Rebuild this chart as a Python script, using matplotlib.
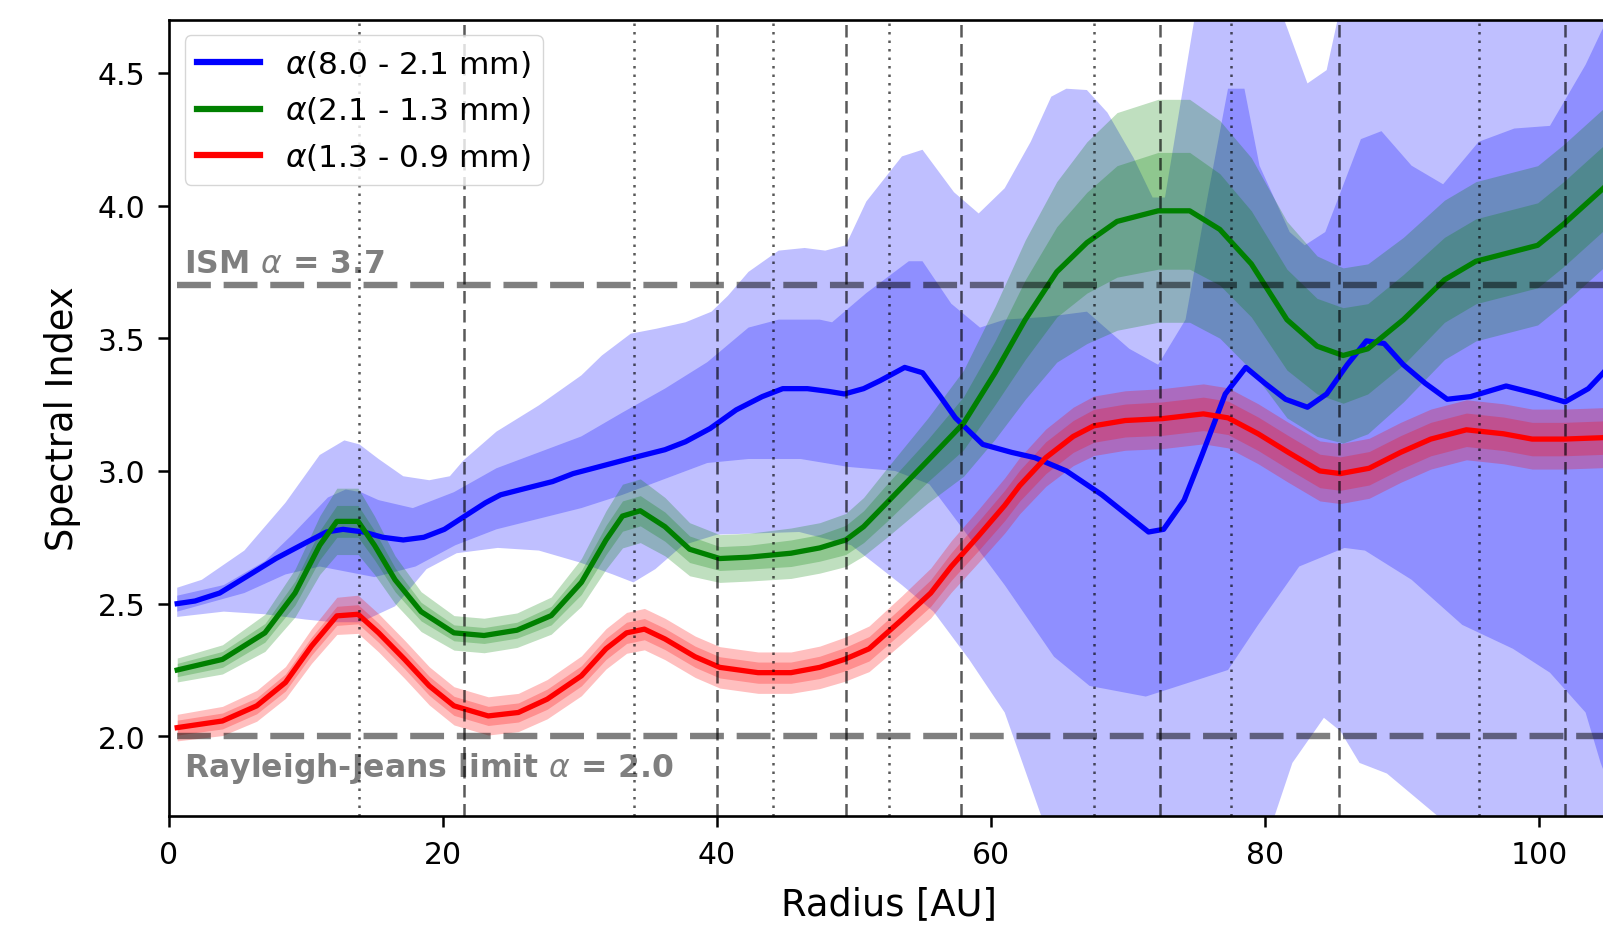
import numpy as np
import matplotlib
matplotlib.use("Agg")
import matplotlib.pyplot as plt

# ---------------- data ----------------
# alpha(8.0 - 2.1 mm) : central line
blue_r = [0.6, 1.9, 3.7, 5.6, 7.8, 10.0, 11.5, 12.7, 14.2, 15.6, 17.1, 18.6, 20.1, 21.6, 23.1, 24.2,
          25.7, 28.0, 29.5, 31.7, 33.9, 36.2, 37.7, 39.5, 41.4, 43.3, 44.8, 46.6, 48.1, 49.3, 50.7,
          51.9, 53.7, 55.0, 56.3, 57.4, 59.4, 61.5, 63.2, 65.5, 68.1, 69.8, 71.5, 72.6, 74.1, 75.4,
          77.1, 78.6, 80.0, 81.5, 83.1, 84.5, 86.0, 87.4, 88.7, 90.1, 91.7, 93.3, 95.0, 97.6, 99.9,
          101.9, 103.6, 104.7, 106.0]
blue_a = [2.50, 2.51, 2.54, 2.60, 2.67, 2.73, 2.77, 2.78, 2.77, 2.75, 2.74, 2.75, 2.78, 2.83, 2.88, 2.91,
          2.93, 2.96, 2.99, 3.02, 3.05, 3.08, 3.11, 3.16, 3.23, 3.28, 3.31, 3.31, 3.30, 3.29, 3.31,
          3.34, 3.39, 3.37, 3.28, 3.20, 3.10, 3.07, 3.05, 3.00, 2.91, 2.84, 2.77, 2.78, 2.89, 3.06,
          3.29, 3.39, 3.33, 3.27, 3.24, 3.29, 3.40, 3.49, 3.48, 3.40, 3.33, 3.27, 3.28, 3.32, 3.29,
          3.26, 3.31, 3.37, 3.45]

# blue 1-sigma band edges
blue_in_up_r = [0.6, 4.0, 7.0, 9.0, 11.6, 12.9, 14.0, 15.3, 17.8, 20.8, 23.9, 27.0, 30.1, 33.1, 36.2,
                39.3, 42.3, 44.5, 47.5, 48.4, 50.9, 54.0, 55.0, 57.1, 59.2, 61.0, 64.0, 67.0, 70.1,
                72.2, 74.2, 75.8, 77.3, 78.5, 79.6, 81.8, 82.9, 84.4, 87.0, 88.5, 90.7, 93.0, 95.6,
                98.2, 100.8, 103.4, 104.5, 106.0]
blue_in_up = [2.53, 2.57, 2.66, 2.76, 2.90, 2.93, 2.92, 2.89, 2.86, 2.92, 3.01, 3.07, 3.13, 3.22, 3.31,
              3.41, 3.54, 3.57, 3.57, 3.56, 3.67, 3.79, 3.79, 3.63, 3.54, 3.57, 3.58, 3.60, 3.46,
              3.40, 3.57, 4.03, 4.44, 4.44, 4.15, 3.90, 3.85, 3.90, 4.25, 4.28, 4.15, 4.08, 4.24,
              4.29, 4.30, 4.53, 4.65, 4.80]
blue_in_lo_r = [0.6, 5.5, 8.5, 11.0, 13.0, 15.0, 18.0, 20.9, 23.9, 27.0, 30.1, 33.1, 36.2, 39.3, 42.3,
                46.1, 49.6, 53.0, 55.5, 57.1, 61.0, 64.6, 67.2, 71.3, 74.3, 77.3, 79.5, 82.5, 85.8,
                87.3, 90.7, 94.4, 98.1, 100.8, 103.4, 104.5, 106.0]
blue_in_lo = [2.47, 2.54, 2.61, 2.64, 2.62, 2.60, 2.64, 2.72, 2.78, 2.82, 2.86, 2.91, 2.97, 3.03, 3.045,
              3.045, 3.015, 3.00, 2.95, 2.84, 2.57, 2.30, 2.19, 2.15, 2.20, 2.25, 2.42, 2.64, 2.71,
              2.70, 2.59, 2.42, 2.33, 2.24, 2.09, 1.90, 1.70]

# blue 2-sigma band edges
blue_out_up_r = [0.6, 2.4, 5.5, 8.5, 11.0, 12.8, 13.9, 15.3, 17.1, 19.0, 20.5, 21.5, 23.9, 27.0, 30.1,
                 31.6, 33.7, 35.6, 37.7, 39.6, 40.8, 42.3, 44.5, 46.4, 47.9, 49.4, 50.9, 53.5, 55.0,
                 57.3, 59.1, 61.0, 62.9, 64.4, 65.5, 67.0, 68.5, 70.4, 71.8, 72.7, 75.0, 75.5, 80.5,
                 81.4, 83.1, 84.5, 85.3, 86.0, 106.0]
blue_out_up = [2.56, 2.59, 2.70, 2.88, 3.06, 3.115, 3.10, 3.045, 2.98, 2.965, 2.98, 3.04, 3.148, 3.247,
               3.36, 3.435, 3.517, 3.536, 3.56, 3.60, 3.66, 3.75, 3.83, 3.84, 3.83, 3.85, 4.015,
               4.185, 4.21, 4.05, 3.97, 4.065, 4.24, 4.41, 4.44, 4.435, 4.35, 4.18, 4.03, 4.03, 4.75,
               4.90, 4.90, 4.70, 4.46, 4.51, 4.70, 4.90, 4.90]
blue_out_lo_r = [0.6, 4.0, 7.0, 10.0, 12.0, 14.0, 16.5, 18.8, 21.0, 24.0, 27.0, 30.0, 32.4, 33.9, 35.5,
                 37.5, 40.0, 46.0, 49.8, 53.5, 55.8, 58.4, 61.0, 63.6, 66.0, 72.0, 78.0, 80.7, 82.0,
                 84.3, 85.5, 86.9, 88.9, 92.6, 96.0, 106.0]
blue_out_lo = [2.45, 2.47, 2.46, 2.44, 2.43, 2.43, 2.49, 2.63, 2.69, 2.71, 2.70, 2.655, 2.61, 2.58, 2.63,
               2.72, 2.76, 2.77, 2.72, 2.57, 2.47, 2.29, 2.09, 1.71, 1.40, 1.30, 1.40, 1.70, 1.90,
               2.07, 2.02, 1.90, 1.86, 1.70, 1.50, 1.30]

# alpha(2.1 - 1.3 mm)
green_r = [0.6, 3.9, 7.0, 9.2, 11.0, 12.25, 13.8, 15.0, 16.5, 18.4, 20.8, 23.0, 25.4, 27.9, 30.1, 31.9,
           33.1, 34.4, 36.2, 38.0, 40.2, 42.3, 45.4, 47.5, 49.4, 50.7, 52.4, 55.4, 58.0, 60.3, 62.5,
           64.8, 67.0, 69.2, 72.2, 74.5, 76.7, 79.0, 81.6, 83.8, 85.7, 87.5, 90.1, 93.1, 95.4, 98.4,
           99.9, 101.8, 104.7, 106.0]
green_a = [2.25, 2.29, 2.39, 2.54, 2.72, 2.81, 2.81, 2.72, 2.59, 2.47, 2.39, 2.38, 2.40, 2.455, 2.58, 2.74,
           2.83, 2.85, 2.79, 2.705, 2.67, 2.675, 2.69, 2.71, 2.74, 2.79, 2.88, 3.04, 3.18, 3.37, 3.57,
           3.75, 3.86, 3.94, 3.98, 3.98, 3.91, 3.78, 3.57, 3.47, 3.435, 3.46, 3.57, 3.72, 3.79, 3.83,
           3.85, 3.93, 4.065, 4.13]
green_err1 = [0.025, 0.03, 0.035, 0.045, 0.055, 0.06, 0.06, 0.055, 0.045, 0.035, 0.03, 0.03, 0.03, 0.035,
              0.045, 0.055, 0.057, 0.057, 0.055, 0.05, 0.045, 0.045, 0.05, 0.05, 0.055, 0.06, 0.07,
              0.08, 0.10, 0.12, 0.15, 0.17, 0.19, 0.21, 0.22, 0.22, 0.21, 0.20, 0.19, 0.18, 0.18, 0.17,
              0.17, 0.16, 0.16, 0.16, 0.16, 0.16, 0.16, 0.16]
green_err2 = [0.045, 0.055, 0.07, 0.09, 0.11, 0.125, 0.125, 0.11, 0.09, 0.075, 0.065, 0.065, 0.065, 0.07,
              0.09, 0.11, 0.12, 0.12, 0.11, 0.10, 0.09, 0.09, 0.095, 0.095, 0.10, 0.11, 0.13, 0.16,
              0.20, 0.25, 0.30, 0.34, 0.38, 0.41, 0.42, 0.42, 0.41, 0.40, 0.37, 0.34, 0.33, 0.32, 0.31,
              0.30, 0.30, 0.30, 0.30, 0.30, 0.30, 0.30]

# alpha(1.3 - 0.9 mm)
red_r = [0.6, 3.9, 6.4, 8.5, 10.4, 12.25, 13.8, 15.3, 17.2, 19.0, 20.8, 23.3, 25.5, 27.6, 30.1, 31.9,
         33.4, 34.7, 36.2, 38.4, 40.2, 43.0, 45.4, 47.5, 49.3, 51.1, 53.5, 55.6, 57.1, 59.1, 61.0,
         62.1, 64.0, 66.0, 67.5, 69.8, 72.5, 75.5, 77.3, 79.5, 81.7, 84.0, 85.5, 87.6, 89.9, 92.1,
         94.7, 97.4, 99.5, 101.8, 104.5, 106.0]
red_a = [2.033, 2.058, 2.115, 2.203, 2.34, 2.454, 2.46, 2.39, 2.29, 2.19, 2.115, 2.077, 2.09, 2.14, 2.228,
         2.33, 2.39, 2.404, 2.367, 2.30, 2.26, 2.24, 2.24, 2.26, 2.29, 2.33, 2.44, 2.54, 2.64, 2.756,
         2.87, 2.945, 3.05, 3.13, 3.17, 3.19, 3.197, 3.215, 3.20, 3.14, 3.07, 3.00, 2.99, 3.01, 3.07,
         3.12, 3.155, 3.14, 3.12, 3.12, 3.125, 3.13]
red_err1 = [0.028, 0.03, 0.03, 0.032, 0.034, 0.036, 0.036, 0.036, 0.036, 0.036, 0.036, 0.036, 0.036, 0.038,
            0.038, 0.04, 0.04, 0.04, 0.04, 0.04, 0.04, 0.04, 0.04, 0.042, 0.044, 0.046, 0.048, 0.05,
            0.052, 0.055, 0.057, 0.058, 0.06, 0.06, 0.062, 0.062, 0.063, 0.063, 0.063, 0.063, 0.063,
            0.063, 0.063, 0.063, 0.063, 0.063, 0.063, 0.063, 0.063, 0.063, 0.063, 0.063]
red_err2 = [0.05, 0.055, 0.058, 0.06, 0.065, 0.07, 0.072, 0.072, 0.072, 0.072, 0.072, 0.072, 0.072, 0.074,
            0.075, 0.076, 0.077, 0.078, 0.078, 0.078, 0.078, 0.078, 0.078, 0.08, 0.083, 0.086, 0.09,
            0.094, 0.097, 0.10, 0.104, 0.106, 0.108, 0.11, 0.112, 0.112, 0.113, 0.113, 0.113, 0.113,
            0.113, 0.113, 0.113, 0.113, 0.113, 0.113, 0.113, 0.113, 0.113, 0.113, 0.113, 0.113]

# ring / gap radii
dashed_r = [21.5, 40.0, 49.4, 57.8, 72.3, 85.4, 101.9]
dotted_r = [13.9, 33.95, 44.1, 52.55, 67.5, 77.5, 95.6]

ism_alpha = 3.7
rj_alpha = 2.0
legend_labels = [r"$\alpha$(8.0 - 2.1 mm)", r"$\alpha$(2.1 - 1.3 mm)", r"$\alpha$(1.3 - 0.9 mm)"]
x_ticks = [0, 20, 40, 60, 80, 100]
y_ticks = [2.0, 2.5, 3.0, 3.5, 4.0, 4.5]
y_ticklabels = ["2.0", "2.5", "3.0", "3.5", "4.0", "4.5"]

# ---------------- figure ----------------
plt.rcParams['font.family'] = ['DejaVu Sans']
fig = plt.figure(figsize=(16.03, 9.29), dpi=100)
x_max = 105.1
ax = fig.add_axes([169 / 1603, 0.12056, x_max * 13.7 / 1603, 0.85716])

band_alpha = 0.25

def band(ax, r_up, up, r_lo, lo, color):
    xs = list(r_up) + list(r_lo)[::-1]
    ys = list(up) + list(lo)[::-1]
    ax.fill(xs, ys, color=color, alpha=band_alpha, lw=0)

# blue bands
band(ax, blue_out_up_r, blue_out_up, blue_out_lo_r, blue_out_lo, 'blue')
band(ax, blue_in_up_r, blue_in_up, blue_in_lo_r, blue_in_lo, 'blue')

# green bands
g_r = np.array(green_r); g_a = np.array(green_a)
ax.fill_between(g_r, g_a - np.array(green_err2), g_a + np.array(green_err2), color='green', alpha=band_alpha, lw=0)
ax.fill_between(g_r, g_a - np.array(green_err1), g_a + np.array(green_err1), color='green', alpha=band_alpha, lw=0)

# red bands
r_r = np.array(red_r); r_a = np.array(red_a)
ax.fill_between(r_r, r_a - np.array(red_err2), r_a + np.array(red_err2), color='red', alpha=band_alpha, lw=0)
ax.fill_between(r_r, r_a - np.array(red_err1), r_a + np.array(red_err1), color='red', alpha=band_alpha, lw=0)

lw = 3.8
l1, = ax.plot(blue_r, blue_a, color='blue', lw=lw)
l2, = ax.plot(green_r, green_a, color='green', lw=lw)
l3, = ax.plot(red_r, red_a, color='red', lw=lw)

for r in dashed_r:
    ax.axvline(r, color='k', alpha=0.65, lw=1.8, ls=(0, (5.0, 2.6)))
for r in dotted_r:
    ax.axvline(r, color='k', alpha=0.65, lw=1.8, ls=(0, (1.0, 2.4)))

x_start = blue_r[0]
ax.plot([x_start, 120], [ism_alpha, ism_alpha], color='k', alpha=0.5, lw=4.6, ls=(0, (5.3, 2.0)))
ax.plot([x_start, 120], [rj_alpha, rj_alpha], color='k', alpha=0.5, lw=4.6, ls=(0, (5.3, 2.0)))

ax.text(1.1, 3.75, r"ISM $\alpha$ = 3.7", fontsize=22.7, fontweight='bold', color='k', alpha=0.5)
ax.text(1.1, 1.85, r"Rayleigh-Jeans limit $\alpha$ = 2.0", fontsize=22.7, fontweight='bold', color='k', alpha=0.5)

ax.set_xlim(0, x_max)
ax.set_ylim(1.7, 4.7)
ax.set_xticks(x_ticks)
ax.set_yticks(y_ticks)
ax.set_yticklabels(y_ticklabels)
ax.tick_params(labelsize=21.5, length=8, width=1.8, pad=9)
for s in ax.spines.values():
    s.set_linewidth(1.9)
ax.set_xlabel("Radius [AU]", fontsize=26.5, labelpad=12)
ax.set_ylabel("Spectral Index", fontsize=26.5, labelpad=12)

leg = ax.legend([l1, l2, l3], legend_labels, loc='upper left', fontsize=22.5, framealpha=0.8,
                borderaxespad=0.5, handlelength=2.0)
for h in leg.get_lines():
    h.set_linewidth(4.5)

fig.savefig("out.png", dpi=100)
